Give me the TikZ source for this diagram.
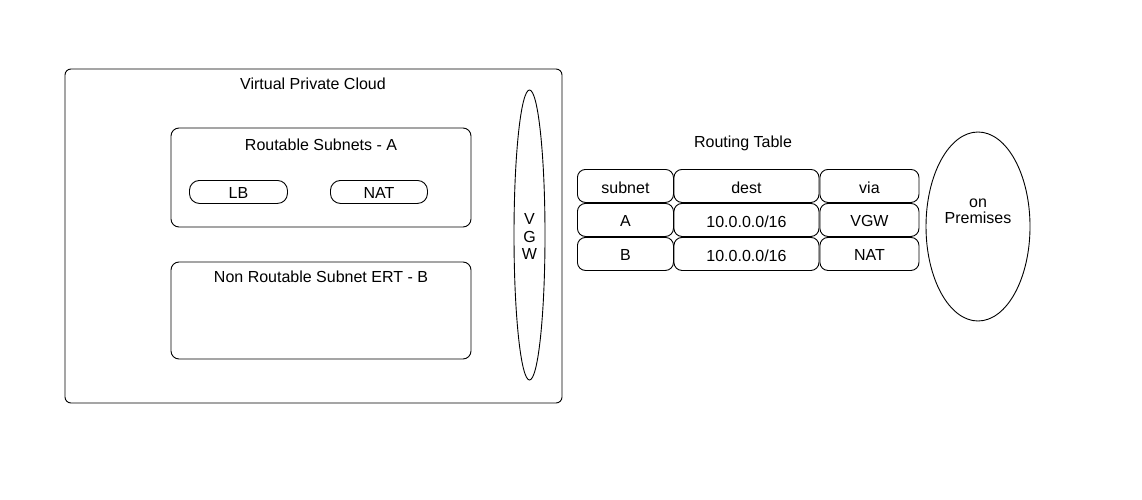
\documentclass[tikz,border=0pt]{standalone}
\usepackage{fontspec}
\setmainfont{Liberation Sans}
\usetikzlibrary{shapes.geometric}
\begin{document}
\begin{tikzpicture}[x=1pt,y=-1pt,
  every node/.style={font=\fontsize{16}{19}\selectfont},
  rbox/.style={draw=black,line width=0.9pt,rounded corners=8pt,fill=white},
  cell/.style={draw=black,line width=0.9pt,rounded corners=8pt,inner sep=0pt,anchor=north west},
  lbl/.style={inner sep=0pt,yshift=-1.5pt}]
\useasboundingbox[fill=white] (0,0) rectangle (1142,500);
% VPC
\draw[rbox,rounded corners=6pt] (65,69) rectangle (562,403);
\node[lbl] (vpc) at (313,82) {Virtual Private Cloud};
% Routable subnets
\draw[rbox] (171,128) rectangle (471,227);
\node[lbl] (rsa) at (321,143) {Routable Subnets - A};
\node[cell,rounded corners=10pt,minimum width=98pt,minimum height=23pt] (lb) at (189,180) {};
\node[lbl] at (lb.center) {LB};
\node[cell,rounded corners=10pt,minimum width=97pt,minimum height=23pt] (nat) at (330,180) {};
\node[lbl] at (nat.center) {NAT};
% Non routable
\draw[rbox] (171,262) rectangle (471,359);
\node[lbl] (nrb) at (321,275) {Non Routable Subnet ERT - B};
% VGW
\node[draw,line width=0.9pt,ellipse,minimum width=31pt,minimum height=290pt,inner sep=0pt] (vgw) at (529.5,235) {};
\node[lbl,align=center,font=\fontsize{16}{17.5}\selectfont] at (vgw.center) {V\\G\\W};
% Routing table
\node[lbl] (rt) at (743,142) {Routing Table};
\foreach \r/\y/\a/\b/\c in {1/169/subnet/dest/via,2/203/A/10.0.0.0\slash 16/VGW,3/237/B/10.0.0.0\slash 16/NAT}{
  \node[cell,minimum width=96pt,minimum height=33pt] (c\r a) at (577,\y) {};
  \node[lbl] at (c\r a.center) {\a};
  \node[cell,minimum width=145pt,minimum height=33pt] (c\r b) at (673.5,\y) {};
  \node[lbl] at (c\r b.center) {\b};
  \node[cell,minimum width=99pt,minimum height=33pt] (c\r c) at (819.5,\y) {};
  \node[lbl] at (c\r c.center) {\c};
}
% on premises
\node[draw,line width=0.9pt,ellipse,minimum width=104pt,minimum height=189pt,inner sep=0pt] (prem) at (978,226.5) {};
\node[lbl,align=center,font=\fontsize{16}{16}\selectfont] at (978,210) {on\\Premises};
\end{tikzpicture}
\end{document}
